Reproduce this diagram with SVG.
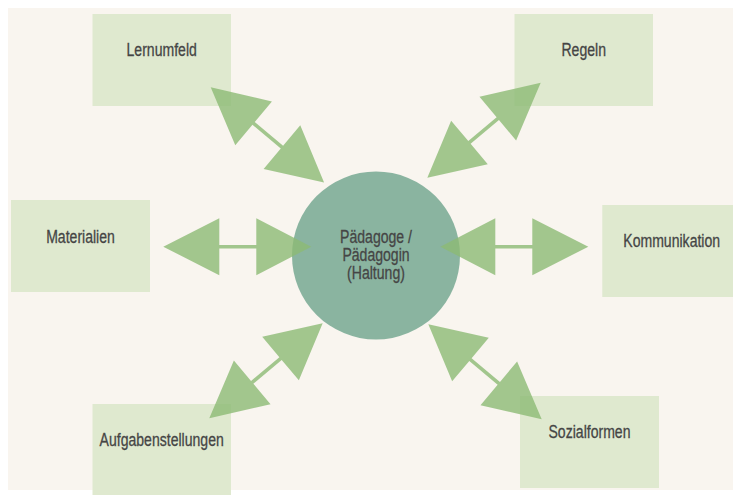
<svg xmlns="http://www.w3.org/2000/svg" xmlns:xlink="http://www.w3.org/1999/xlink" width="733" height="495" viewBox="0 0 733 495">
<style>
.box{fill:#dfe9cf}
.hub{fill:#8ab4a0}
.lbl{font-family:"Liberation Sans",Arial,sans-serif;font-size:18.5px;fill:#454545;stroke:#454545;stroke-width:0.3;text-anchor:middle}
.arr{fill:#8cba74;fill-opacity:0.8}
</style>
<defs>
<path id="dbl" d="M0,0 L56,-28.5 L56,-1.8 L93,-1.8 L93,-28.5 L148,0 L93,28.5 L93,1.8 L56,1.8 L56,28.5 Z"/>
</defs>
<rect x="0" y="0" width="733" height="495" fill="#ffffff"/>
<rect x="8" y="8" width="725" height="482" fill="#f9f5ef"/>
<g id="node-lernumfeld"><rect class="box" x="92.5" y="14" width="138.5" height="92"/><text class="lbl" transform="translate(161.7,56) scale(0.76,1)">Lernumfeld</text></g>
<g id="node-regeln"><rect class="box" x="514.5" y="14" width="138.5" height="92"/><text class="lbl" transform="translate(583.7,56) scale(0.76,1)">Regeln</text></g>
<g id="node-materialien"><rect class="box" x="11" y="200" width="139" height="92"/><text class="lbl" transform="translate(80.5,242.7) scale(0.76,1)">Materialien</text></g>
<g id="node-kommunikation"><rect class="box" x="602.3" y="205" width="140" height="92"/><text class="lbl" transform="translate(671.7,247.3) scale(0.76,1)">Kommunikation</text></g>
<g id="node-aufgabenstellungen"><rect class="box" x="92.5" y="404" width="138.5" height="91"/><text class="lbl" transform="translate(161.7,446) scale(0.76,1)">Aufgabenstellungen</text></g>
<g id="node-sozialformen"><rect class="box" x="520" y="396" width="139" height="92"/><text class="lbl" transform="translate(589.5,438) scale(0.76,1)">Sozialformen</text></g>
<g id="node-hub"><circle class="hub" cx="376" cy="255.5" r="84"/><text class="lbl" transform="translate(376,242.5) scale(0.76,1)">Pädagoge /</text><text class="lbl" transform="translate(376,260.5) scale(0.76,1)">Pädagogin</text><text class="lbl" transform="translate(376,278.5) scale(0.76,1)">(Haltung)</text></g>
<g id="connectors">
<use xlink:href="#dbl" class="arr" transform="translate(210.7,87.3) rotate(40)"/>
<use xlink:href="#dbl" class="arr" transform="translate(540.7,82.7) rotate(140)"/>
<use xlink:href="#dbl" class="arr" transform="translate(163.3,246.7)"/>
<use xlink:href="#dbl" class="arr" transform="translate(588.3,246.7) rotate(180)"/>
<use xlink:href="#dbl" class="arr" transform="translate(209.3,418.3) rotate(-40)"/>
<use xlink:href="#dbl" class="arr" transform="translate(541.7,419.3) rotate(-140)"/>
</g>
</svg>
